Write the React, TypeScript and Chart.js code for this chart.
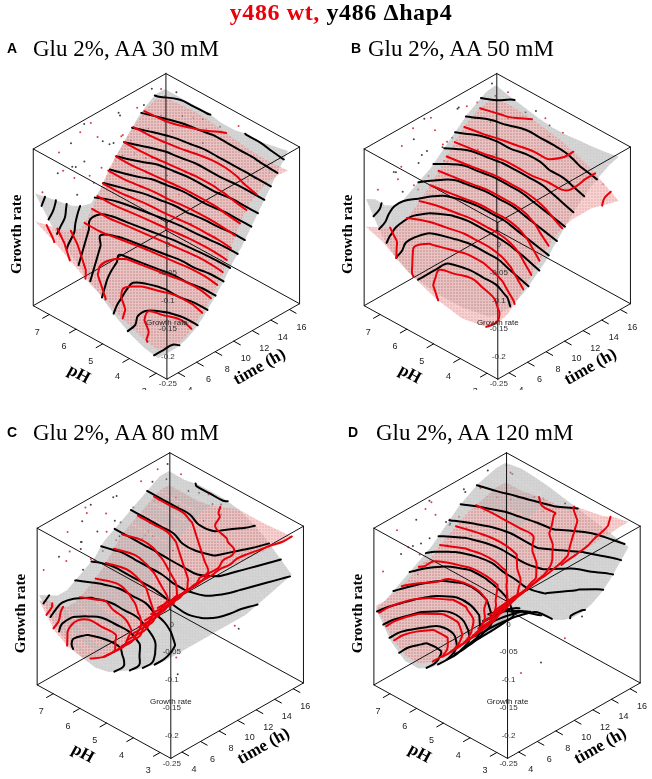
import React, { useEffect, useRef } from "react";
import { Chart, registerables } from "chart.js";

Chart.register(...registerables);

// ---------------- data ----------------
const PH_GRID = [3, 3.5, 4, 4.5, 5, 5.5, 6, 6.5, 7, 7.6];
const TIME_GRID = [3, 4, 5, 6, 7, 8, 9, 10, 11, 12, 13, 14, 15, 16, 17];
const PH_TICKS = [3, 4, 5, 6, 7];
const TIME_TICKS = [4, 6, 8, 10, 12, 14, 16];
const GROWTH_TICKS = [-0.25, -0.2, -0.15, -0.1, -0.05, 0];
const GROWTH_TICK_LABELS = ["-0.25", "-0.2", "-0.15", "-0.1", "-0.05", "0"];
const PH_RANGE = [2.6, 7.6];
const TIME_RANGE = [2.8, 17.1];
const GROWTH_RANGE = [-0.25, 0.032];
const CONTOUR_LEVELS = [
  -0.2235, -0.206, -0.1885, -0.171, -0.1535, -0.136, -0.1185, -0.101,
  -0.0835, -0.066, -0.0485, -0.031, -0.0135, 0.004, 0.0215,
];

// fitted growth rate, rows = TIME_GRID, columns = PH_GRID
const A_WT = [
  [-0.21, -0.205, -0.195, -0.185, -0.17, -0.16, -0.145, -0.13, -0.115, -0.1],
  [-0.215, -0.21, -0.2, -0.19, -0.18, -0.17, -0.155, -0.145, -0.13, -0.115],
  [-0.22, -0.215, -0.21, -0.2, -0.19, -0.18, -0.17, -0.155, -0.145, -0.13],
  [-0.215, -0.215, -0.21, -0.205, -0.195, -0.185, -0.175, -0.165, -0.155, -0.145],
  [-0.2, -0.205, -0.2, -0.195, -0.19, -0.18, -0.175, -0.165, -0.16, -0.155],
  [-0.185, -0.19, -0.19, -0.185, -0.18, -0.175, -0.17, -0.165, -0.16, -0.16],
  [-0.165, -0.17, -0.17, -0.165, -0.16, -0.155, -0.15, -0.145, -0.14, -0.14],
  [-0.135, -0.14, -0.14, -0.135, -0.13, -0.125, -0.12, -0.115, -0.11, -0.11],
  [-0.095, -0.1, -0.1, -0.1, -0.095, -0.09, -0.09, -0.085, -0.08, -0.08],
  [-0.06, -0.065, -0.07, -0.07, -0.07, -0.068, -0.065, -0.062, -0.06, -0.06],
  [-0.038, -0.042, -0.048, -0.05, -0.05, -0.048, -0.045, -0.042, -0.04, -0.04],
  [-0.027, -0.03, -0.034, -0.036, -0.036, -0.034, -0.031, -0.028, -0.026, -0.025],
  [-0.02, -0.022, -0.025, -0.027, -0.027, -0.025, -0.02, -0.015, -0.012, -0.01],
  [-0.018, -0.02, -0.022, -0.022, -0.02, -0.017, -0.012, -0.008, -0.006, -0.005],
  [-0.02, -0.022, -0.022, -0.02, -0.016, -0.012, -0.008, -0.006, -0.008, -0.01],
];
const A_HAP = [
  [-0.225, -0.22, -0.21, -0.195, -0.175, -0.155, -0.135, -0.115, -0.09, -0.05],
  [-0.225, -0.22, -0.21, -0.2, -0.185, -0.165, -0.145, -0.125, -0.1, -0.065],
  [-0.225, -0.22, -0.215, -0.205, -0.19, -0.175, -0.155, -0.135, -0.11, -0.08],
  [-0.22, -0.22, -0.215, -0.205, -0.195, -0.18, -0.165, -0.145, -0.125, -0.095],
  [-0.21, -0.21, -0.205, -0.2, -0.195, -0.185, -0.17, -0.155, -0.135, -0.11],
  [-0.195, -0.195, -0.19, -0.19, -0.185, -0.18, -0.175, -0.165, -0.15, -0.12],
  [-0.175, -0.175, -0.17, -0.17, -0.165, -0.16, -0.155, -0.15, -0.145, -0.125],
  [-0.155, -0.155, -0.15, -0.15, -0.145, -0.14, -0.135, -0.13, -0.125, -0.11],
  [-0.13, -0.13, -0.13, -0.125, -0.125, -0.12, -0.115, -0.11, -0.1, -0.085],
  [-0.11, -0.11, -0.105, -0.105, -0.1, -0.1, -0.095, -0.09, -0.075, -0.06],
  [-0.085, -0.085, -0.085, -0.08, -0.08, -0.08, -0.075, -0.07, -0.055, -0.04],
  [-0.06, -0.06, -0.06, -0.055, -0.055, -0.055, -0.05, -0.045, -0.035, -0.02],
  [-0.035, -0.035, -0.035, -0.035, -0.035, -0.035, -0.03, -0.025, -0.015, -0.005],
  [-0.01, -0.012, -0.015, -0.015, -0.015, -0.015, -0.01, -0.005, 0.0, 0.005],
  [0.015, 0.01, 0.005, 0.005, 0.0, 0.0, 0.005, 0.005, 0.005, 0.005],
];
const B_WT = [
  [-0.17, -0.175, -0.18, -0.175, -0.17, -0.16, -0.15, -0.135, -0.12, -0.11],
  [-0.17, -0.18, -0.185, -0.18, -0.175, -0.17, -0.16, -0.145, -0.13, -0.12],
  [-0.165, -0.175, -0.185, -0.185, -0.18, -0.175, -0.165, -0.155, -0.14, -0.13],
  [-0.15, -0.165, -0.175, -0.18, -0.18, -0.175, -0.17, -0.16, -0.15, -0.14],
  [-0.13, -0.145, -0.16, -0.165, -0.17, -0.165, -0.16, -0.155, -0.15, -0.14],
  [-0.11, -0.125, -0.14, -0.15, -0.155, -0.155, -0.15, -0.145, -0.14, -0.13],
  [-0.09, -0.105, -0.12, -0.13, -0.135, -0.135, -0.135, -0.13, -0.125, -0.115],
  [-0.075, -0.085, -0.1, -0.11, -0.115, -0.115, -0.115, -0.11, -0.105, -0.1],
  [-0.065, -0.07, -0.08, -0.09, -0.095, -0.095, -0.095, -0.09, -0.085, -0.08],
  [-0.06, -0.06, -0.065, -0.07, -0.075, -0.075, -0.075, -0.07, -0.065, -0.06],
  [-0.06, -0.055, -0.055, -0.055, -0.055, -0.055, -0.055, -0.05, -0.045, -0.04],
  [-0.06, -0.055, -0.045, -0.045, -0.04, -0.04, -0.04, -0.035, -0.03, -0.025],
  [-0.065, -0.055, -0.045, -0.035, -0.03, -0.03, -0.025, -0.022, -0.02, -0.015],
  [-0.07, -0.06, -0.045, -0.035, -0.025, -0.02, -0.018, -0.015, -0.012, -0.01],
  [-0.075, -0.06, -0.045, -0.035, -0.025, -0.02, -0.015, -0.012, -0.01, -0.01],
];
const B_HAP = [
  [-0.15, -0.155, -0.16, -0.16, -0.16, -0.155, -0.15, -0.135, -0.11, -0.06],
  [-0.155, -0.16, -0.165, -0.165, -0.16, -0.155, -0.15, -0.14, -0.12, -0.07],
  [-0.155, -0.16, -0.165, -0.165, -0.16, -0.155, -0.15, -0.145, -0.13, -0.09],
  [-0.15, -0.155, -0.16, -0.16, -0.16, -0.155, -0.15, -0.145, -0.13, -0.1],
  [-0.14, -0.145, -0.15, -0.15, -0.15, -0.15, -0.145, -0.14, -0.13, -0.1],
  [-0.125, -0.13, -0.135, -0.14, -0.14, -0.14, -0.135, -0.13, -0.12, -0.09],
  [-0.11, -0.115, -0.12, -0.125, -0.125, -0.125, -0.125, -0.12, -0.11, -0.08],
  [-0.09, -0.095, -0.1, -0.105, -0.11, -0.11, -0.11, -0.105, -0.095, -0.07],
  [-0.07, -0.075, -0.08, -0.085, -0.09, -0.09, -0.09, -0.085, -0.08, -0.055],
  [-0.05, -0.055, -0.06, -0.065, -0.07, -0.07, -0.07, -0.065, -0.06, -0.04],
  [-0.035, -0.04, -0.045, -0.05, -0.05, -0.05, -0.05, -0.045, -0.04, -0.025],
  [-0.02, -0.025, -0.03, -0.03, -0.035, -0.035, -0.03, -0.03, -0.025, -0.01],
  [-0.01, -0.012, -0.015, -0.018, -0.02, -0.02, -0.02, -0.015, -0.01, 0.0],
  [0.0, -0.005, -0.008, -0.01, -0.01, -0.01, -0.01, -0.005, 0.0, 0.01],
  [0.005, 0.0, -0.003, -0.005, -0.008, -0.008, -0.005, 0.0, 0.005, 0.012],
];
const C_WT = [
  [0.015, -0.02, -0.06, -0.1, -0.13, -0.15, -0.16, -0.155, -0.14, -0.1],
  [0.015, -0.02, -0.06, -0.1, -0.13, -0.155, -0.17, -0.165, -0.15, -0.11],
  [0.015, -0.02, -0.06, -0.1, -0.13, -0.155, -0.17, -0.17, -0.16, -0.13],
  [0.015, -0.015, -0.05, -0.085, -0.12, -0.145, -0.16, -0.16, -0.16, -0.14],
  [0.015, -0.015, -0.05, -0.08, -0.11, -0.135, -0.15, -0.15, -0.15, -0.14],
  [0.015, -0.01, -0.04, -0.07, -0.1, -0.115, -0.13, -0.135, -0.14, -0.13],
  [0.015, -0.01, -0.04, -0.065, -0.09, -0.1, -0.115, -0.125, -0.13, -0.12],
  [0.015, -0.005, -0.03, -0.05, -0.07, -0.085, -0.1, -0.11, -0.115, -0.105],
  [0.012, -0.005, -0.03, -0.04, -0.05, -0.065, -0.08, -0.09, -0.095, -0.085],
  [0.01, 0.0, -0.02, -0.03, -0.04, -0.05, -0.06, -0.07, -0.075, -0.065],
  [0.008, 0.0, -0.02, -0.025, -0.03, -0.04, -0.05, -0.055, -0.055, -0.055],
  [0.006, 0.0, -0.01, -0.015, -0.02, -0.03, -0.04, -0.045, -0.045, -0.045],
  [0.005, 0.0, -0.01, -0.01, -0.01, -0.02, -0.03, -0.035, -0.035, -0.035],
  [0.004, 0.002, 0.0, -0.005, -0.01, -0.015, -0.02, -0.025, -0.025, -0.025],
  [0.004, 0.002, 0.0, 0.0, 0.0, -0.01, -0.02, -0.025, -0.025, -0.025],
];
const C_HAP = [
  [-0.09, -0.11, -0.13, -0.145, -0.16, -0.165, -0.16, -0.15, -0.13, -0.09],
  [-0.09, -0.11, -0.13, -0.145, -0.16, -0.17, -0.17, -0.16, -0.14, -0.1],
  [-0.09, -0.105, -0.12, -0.135, -0.15, -0.16, -0.16, -0.155, -0.14, -0.11],
  [-0.09, -0.1, -0.11, -0.125, -0.14, -0.15, -0.15, -0.145, -0.13, -0.11],
  [-0.09, -0.095, -0.1, -0.11, -0.12, -0.13, -0.13, -0.13, -0.12, -0.1],
  [-0.09, -0.09, -0.09, -0.095, -0.1, -0.11, -0.11, -0.11, -0.1, -0.09],
  [-0.09, -0.085, -0.08, -0.08, -0.085, -0.09, -0.09, -0.09, -0.09, -0.08],
  [-0.09, -0.08, -0.07, -0.065, -0.065, -0.07, -0.07, -0.07, -0.07, -0.06],
  [-0.09, -0.075, -0.06, -0.05, -0.05, -0.05, -0.05, -0.05, -0.05, -0.05],
  [-0.09, -0.07, -0.05, -0.04, -0.035, -0.035, -0.04, -0.04, -0.04, -0.04],
  [-0.085, -0.065, -0.045, -0.03, -0.025, -0.025, -0.03, -0.03, -0.03, -0.03],
  [-0.08, -0.06, -0.04, -0.025, -0.015, -0.015, -0.02, -0.02, -0.02, -0.02],
  [-0.075, -0.055, -0.035, -0.02, -0.01, -0.005, -0.01, -0.01, -0.01, -0.01],
  [-0.07, -0.05, -0.03, -0.015, -0.005, 0.0, 0.0, 0.0, 0.0, 0.0],
  [-0.065, -0.045, -0.025, -0.01, 0.0, 0.005, 0.005, 0.005, 0.0, 0.0],
];
const D_WT = [
  [0.01, -0.025, -0.07, -0.1, -0.13, -0.155, -0.17, -0.17, -0.15, -0.11],
  [0.012, -0.025, -0.07, -0.1, -0.13, -0.155, -0.17, -0.17, -0.15, -0.11],
  [0.015, -0.02, -0.065, -0.095, -0.125, -0.15, -0.165, -0.165, -0.145, -0.105],
  [0.015, -0.018, -0.06, -0.09, -0.115, -0.14, -0.155, -0.155, -0.135, -0.1],
  [0.018, -0.015, -0.05, -0.08, -0.105, -0.125, -0.14, -0.14, -0.12, -0.09],
  [0.02, -0.012, -0.045, -0.07, -0.09, -0.11, -0.12, -0.12, -0.105, -0.08],
  [0.02, -0.008, -0.035, -0.055, -0.075, -0.1, -0.11, -0.11, -0.1, -0.08],
  [0.022, -0.004, -0.03, -0.045, -0.06, -0.085, -0.09, -0.09, -0.08, -0.065],
  [0.024, 0.0, -0.02, -0.035, -0.045, -0.065, -0.07, -0.07, -0.065, -0.055],
  [0.025, 0.005, -0.01, -0.025, -0.035, -0.05, -0.055, -0.055, -0.05, -0.045],
  [0.026, 0.01, 0.0, -0.015, -0.025, -0.04, -0.04, -0.04, -0.04, -0.035],
  [0.028, 0.015, 0.005, -0.005, -0.015, -0.03, -0.03, -0.03, -0.03, -0.03],
  [0.028, 0.018, 0.01, 0.0, -0.01, -0.02, -0.02, -0.025, -0.025, -0.025],
  [0.03, 0.02, 0.01, 0.005, 0.0, -0.015, -0.015, -0.02, -0.02, -0.02],
  [0.03, 0.025, 0.015, 0.01, 0.005, -0.01, -0.01, -0.015, -0.02, -0.02],
];
const D_HAP = [
  [0.01, -0.02, -0.08, -0.11, -0.14, -0.165, -0.18, -0.18, -0.16, -0.115],
  [0.0, -0.025, -0.08, -0.11, -0.14, -0.165, -0.18, -0.18, -0.16, -0.11],
  [-0.01, -0.03, -0.08, -0.105, -0.135, -0.16, -0.175, -0.175, -0.15, -0.1],
  [-0.025, -0.04, -0.08, -0.1, -0.13, -0.15, -0.165, -0.165, -0.14, -0.09],
  [-0.04, -0.05, -0.08, -0.095, -0.115, -0.135, -0.15, -0.15, -0.125, -0.08],
  [-0.055, -0.06, -0.08, -0.09, -0.1, -0.12, -0.13, -0.13, -0.11, -0.07],
  [-0.07, -0.07, -0.075, -0.08, -0.09, -0.1, -0.11, -0.11, -0.09, -0.06],
  [-0.08, -0.075, -0.07, -0.07, -0.075, -0.08, -0.085, -0.085, -0.07, -0.045],
  [-0.085, -0.075, -0.065, -0.06, -0.06, -0.06, -0.065, -0.06, -0.05, -0.03],
  [-0.085, -0.07, -0.06, -0.05, -0.045, -0.045, -0.045, -0.04, -0.03, -0.015],
  [-0.08, -0.065, -0.055, -0.04, -0.03, -0.03, -0.03, -0.025, -0.015, -0.005],
  [-0.07, -0.055, -0.045, -0.03, -0.02, -0.02, -0.015, -0.01, 0.0, 0.005],
  [-0.055, -0.04, -0.03, -0.02, -0.01, -0.005, 0.0, 0.005, 0.01, 0.01],
  [-0.035, -0.025, -0.02, -0.01, 0.0, 0.005, 0.01, 0.012, 0.015, 0.015],
  [-0.015, -0.01, -0.005, 0.0, 0.005, 0.01, 0.015, 0.018, 0.02, 0.015],
];

// observed points [pH, time (h), growth rate]
const A_WT_POINTS = [
  [7.4, 5, 0.01], [7.0, 8, 0.02], [6.8, 11, -0.01], [6.2, 13, 0.02], [7.5, 12, -0.03], [5.5, 15, 0.025],
  [6.6, 6, -0.02], [7.2, 9, -0.05], [4.5, 16, 0.03], [5.8, 10, 0.0], [3.5, 16.5, -0.03], [7.6, 14, 0.0],
  [6.0, 7, 0.015], [4.0, 12, -0.02], [5.0, 11, -0.06], [6.9, 15, 0.03],
  [7.3, 7, 0.03], [6.9, 4, 0.0], [7.6, 9, 0.02], [6.4, 9, 0.03], [7.0, 5.5, -0.03], [5.6, 12, 0.03],
  [6.7, 14, 0.01], [7.4, 16, 0.02], [5.2, 8, 0.03], [6.1, 5, -0.01], [4.6, 10, 0.02], [7.5, 3.5, -0.05],
];
const A_HAP_POINTS = [
  [7.3, 6, 0.02], [6.9, 9, 0.0], [6.5, 12, 0.01], [7.5, 10, -0.02], [5.9, 14, 0.03], [7.1, 4, -0.01],
  [6.4, 8, 0.025], [5.2, 16, 0.01], [7.6, 7, -0.04], [6.0, 11, -0.02], [3.8, 15, -0.04], [4.8, 13, 0.02],
  [7.0, 13, 0.03], [5.5, 9, 0.02], [4.2, 10, -0.08], [6.2, 16, 0.0],
  [7.5, 8, 0.03], [6.6, 4.5, 0.01], [7.2, 11, 0.025], [6.3, 10, -0.01], [7.6, 12, 0.01], [5.7, 7, 0.03],
  [6.8, 6, 0.0], [7.4, 15, 0.03], [5.0, 14, 0.03], [6.2, 3.5, -0.02], [4.4, 8, 0.02], [7.0, 16.5, 0.02],
];
const B_WT_POINTS = [
  [7.3, 6, 0.015], [7.1, 9, 0.02], [6.7, 12, -0.015], [6.1, 14, 0.02], [7.5, 11, -0.035], [5.4, 16, 0.02],
  [6.5, 5, -0.025], [7.0, 8, -0.05], [4.4, 15, 0.03], [5.7, 9, 0.005], [3.6, 17, -0.06], [7.6, 15, 0.0],
  [5.9, 6.5, 0.02], [4.1, 11, -0.03], [4.9, 12, -0.07], [6.8, 16, 0.03],
  [7.4, 7.5, 0.03], [6.8, 4.5, 0.005], [7.6, 10, 0.02], [6.3, 8, 0.03], [7.1, 5, -0.03], [5.5, 13, 0.03],
  [6.6, 15, 0.01], [7.3, 13, 0.02], [5.1, 7, 0.03], [6.0, 4, -0.01], [4.7, 9, 0.02], [7.5, 4, -0.05],
];
const B_HAP_POINTS = [
  [7.2, 7, 0.02], [6.8, 10, 0.005], [6.4, 13, 0.015], [7.4, 9, -0.025], [5.8, 15, 0.03], [7.0, 4.5, -0.01],
  [6.3, 7.5, 0.025], [5.1, 15.5, 0.0], [7.6, 6, -0.04], [5.9, 12, -0.02], [3.9, 14, -0.05], [4.7, 12, 0.02],
  [7.1, 14, 0.03], [5.4, 8.5, 0.02], [4.3, 9, -0.09], [6.1, 17, 0.005],
  [7.5, 9, 0.03], [6.5, 5.5, 0.01], [7.3, 12, 0.025], [6.2, 11, -0.01], [7.6, 13, 0.01], [5.6, 6, 0.03],
  [6.9, 7, 0.0], [7.4, 16, 0.03], [4.9, 15, 0.03], [6.4, 3.5, -0.02], [4.5, 7, 0.02], [7.1, 15.5, 0.02],
];
const C_WT_POINTS = [
  [7.4, 5.5, 0.005], [7.0, 8.5, 0.02], [6.9, 12, -0.02], [6.3, 14, 0.015], [7.5, 10, -0.04], [5.6, 15.5, 0.025],
  [6.7, 6, -0.03], [7.3, 9, -0.06], [4.6, 14, 0.03], [5.9, 9.5, 0.0], [3.4, 12, -0.12], [7.6, 14, 0.01],
  [6.1, 7, 0.01], [4.2, 8, -0.16], [5.1, 10.5, -0.07], [6.8, 16, 0.025],
  [7.2, 7, 0.03], [6.8, 4, 0.0], [7.6, 8, 0.02], [6.5, 10, 0.03], [7.1, 4.5, -0.03], [5.7, 12.5, 0.03],
  [6.6, 13, 0.01], [7.5, 15.5, 0.02], [5.3, 7.5, 0.03], [6.2, 5, -0.01], [4.4, 11, 0.02], [7.6, 3.5, -0.05],
];
const C_HAP_POINTS = [
  [7.2, 6.5, 0.02], [6.8, 9.5, 0.0], [6.6, 12.5, 0.015], [7.5, 9, -0.03], [6.0, 14.5, 0.03], [7.2, 4, -0.02],
  [6.5, 8, 0.025], [5.3, 16, 0.01], [7.6, 7.5, -0.05], [6.1, 11, -0.02], [3.6, 13, -0.14], [4.9, 13, 0.02],
  [7.0, 13.5, 0.03], [5.6, 9, 0.02], [3.8, 7, -0.17], [6.3, 16.5, 0.0],
  [7.4, 8, 0.03], [6.7, 5, 0.01], [7.3, 10.5, 0.025], [6.4, 11.5, -0.01], [7.6, 11, 0.01], [5.8, 6.5, 0.03],
  [6.9, 5.5, 0.0], [7.3, 16, 0.03], [5.1, 14.5, 0.03], [6.3, 4, -0.02], [4.5, 8.5, 0.02], [7.0, 15, 0.02],
];
const D_WT_POINTS = [
  [7.5, 5, 0.01], [7.1, 8, 0.02], [6.8, 10.5, -0.02], [6.2, 13.5, 0.02], [7.6, 11, -0.03], [5.5, 15, 0.025],
  [6.6, 5.5, -0.03], [7.2, 9.5, -0.05], [4.5, 15, 0.03], [5.8, 9, 0.0], [3.3, 11, -0.13], [7.5, 14, 0.0],
  [6.0, 6.5, 0.015], [3.9, 8, -0.18], [5.0, 12, -0.06], [6.9, 15.5, 0.03],
  [7.3, 7.5, 0.03], [6.9, 4.5, 0.0], [7.6, 9, 0.02], [6.4, 8.5, 0.03], [7.0, 6, -0.03], [5.6, 11.5, 0.03],
  [6.7, 13.5, 0.01], [7.4, 16.5, 0.02], [5.2, 9, 0.03], [6.1, 4.5, -0.01], [4.6, 11, 0.02], [7.5, 3.5, -0.05],
];
const D_HAP_POINTS = [
  [7.3, 6.5, 0.02], [6.9, 9, 0.0], [6.5, 11.5, 0.01], [7.4, 10, -0.02], [5.9, 13.5, 0.03], [7.0, 4, -0.01],
  [6.4, 7.5, 0.025], [5.2, 16.5, 0.01], [7.6, 7, -0.04], [6.0, 10.5, -0.02], [3.7, 14, -0.13], [4.8, 12.5, 0.02],
  [7.0, 12.5, 0.03], [5.5, 8.5, 0.02], [3.5, 9, -0.16], [6.2, 16, 0.0],
  [7.5, 8.5, 0.03], [6.6, 5, 0.01], [7.2, 11.5, 0.025], [6.3, 9.5, -0.01], [7.6, 12.5, 0.01], [5.7, 6.5, 0.03],
  [6.8, 6.5, 0.0], [7.4, 14.5, 0.03], [5.0, 13.5, 0.03], [6.2, 3.5, -0.02], [4.4, 9.5, 0.02], [7.0, 16, 0.02],
];

const PANELS = [
  { key: "A", title: "Glu 2%, AA 30 mM", left: 0, top: 0, ox: 167, oy: 383, letterX: 7, titleX: 33, baseY: 56, wtBias: -10, wt: A_WT, hap: A_HAP, wtPts: A_WT_POINTS, hapPts: A_HAP_POINTS },
  { key: "B", title: "Glu 2%, AA 50 mM", left: 326, top: 0, ox: 172, oy: 383, letterX: 25, titleX: 42, baseY: 56, wtBias: -10, wt: B_WT, hap: B_HAP, wtPts: B_WT_POINTS, hapPts: B_HAP_POINTS },
  { key: "C", title: "Glu 2%, AA 80 mM", left: 0, top: 390, ox: 171, oy: 372, letterX: 7, titleX: 33, baseY: 50, wtBias: -0.1, wt: C_WT, hap: C_HAP, wtPts: C_WT_POINTS, hapPts: C_HAP_POINTS },
  { key: "D", title: "Glu 2%, AA 120 mM", left: 326, top: 390, ox: 182, oy: 372, letterX: 22, titleX: 50, baseY: 50, wtBias: -0.1, wt: D_WT, hap: D_HAP, wtPts: D_WT_POINTS, hapPts: D_HAP_POINTS },
];

// ---------------- geometry / style ----------------
const PANEL_W = 326;
const PANEL_H = 390;
const PH_VEC = { x: -137, y: -75 };
const TIME_VEC = { x: 136, y: -77 };
const GROWTH_LEN = 160;
const RED = "#e8000b";
const SERIF = '"Liberation Serif", "Times New Roman", Times, serif';
const SANS = '"Liberation Sans", Arial, Helvetica, sans-serif';
const PH_CHUNKS = [[0, 3], [3, 6], [6, 9]];

type Pt = { x: number; y: number };

function frac(v: number, r: number[]) {
  return (v - r[0]) / (r[1] - r[0]);
}

function makeProjector(panel: any) {
  return (ph: number, t: number, g: number): Pt => {
    const fp = frac(ph, PH_RANGE);
    const ft = frac(t, TIME_RANGE);
    const fg = frac(g, GROWTH_RANGE);
    return {
      x: panel.ox + PH_VEC.x * fp + TIME_VEC.x * ft,
      y: panel.oy + PH_VEC.y * fp + TIME_VEC.y * ft - GROWTH_LEN * fg,
    };
  };
}

// distance along the viewing ray (larger = farther from the viewer)
function depthOf(ph: number, t: number, g: number) {
  return frac(ph, PH_RANGE) + frac(t, TIME_RANGE) - 0.95 * frac(g, GROWTH_RANGE);
}

function lineDs(data: Pt[], color: string, width: number, tension = 0) {
  return {
    data,
    showLine: true,
    borderColor: color,
    borderWidth: width,
    pointRadius: 0,
    pointHoverRadius: 0,
    fill: false,
    tension,
    borderCapStyle: "round",
    borderJoinStyle: "round",
  };
}

function surfaceCells(grid: number[][], proj: any, pattern: any, bias: number) {
  const cells: { depth: number; ds: any }[] = [];
  for (let i = 0; i < TIME_GRID.length - 1; i++) {
    PH_CHUNKS.forEach(([j0, j1]) => {
      const upper: Pt[] = [];
      const lower: Pt[] = [];
      let depth = 0;
      let n = 0;
      for (let j = j0; j <= j1; j++) {
        upper.push(proj(PH_GRID[j], TIME_GRID[i + 1], grid[i + 1][j]));
        lower.push(proj(PH_GRID[j], TIME_GRID[i], grid[i][j]));
        depth += depthOf(PH_GRID[j], TIME_GRID[i + 1], grid[i + 1][j]) + depthOf(PH_GRID[j], TIME_GRID[i], grid[i][j]);
        n += 2;
      }
      cells.push({
        depth: depth / n + bias,
        ds: {
          data: [...upper, ...lower.reverse()],
          showLine: true,
          borderColor: "rgba(0,0,0,0)",
          borderWidth: 0.01,
          backgroundColor: pattern,
          fill: "shape",
          pointRadius: 0,
          tension: 0,
        },
      });
    });
  }
  return cells;
}

function contourPaths(grid: number[][], level: number) {
  const nI = TIME_GRID.length;
  const nJ = PH_GRID.length;
  const pts = new Map<string, { ph: number; t: number }>();
  const segs: string[][] = [];
  const hEdge = (i: number, j: number) => {
    const k = `h${i}_${j}`;
    if (!pts.has(k)) {
      const a = grid[i][j], b = grid[i][j + 1];
      const f = (level - a) / (b - a);
      pts.set(k, { ph: PH_GRID[j] + f * (PH_GRID[j + 1] - PH_GRID[j]), t: TIME_GRID[i] });
    }
    return k;
  };
  const vEdge = (i: number, j: number) => {
    const k = `v${i}_${j}`;
    if (!pts.has(k)) {
      const a = grid[i][j], b = grid[i + 1][j];
      const f = (level - a) / (b - a);
      pts.set(k, { ph: PH_GRID[j], t: TIME_GRID[i] + f * (TIME_GRID[i + 1] - TIME_GRID[i]) });
    }
    return k;
  };
  for (let i = 0; i < nI - 1; i++) {
    for (let j = 0; j < nJ - 1; j++) {
      const a = grid[i][j] >= level;
      const b = grid[i][j + 1] >= level;
      const c = grid[i + 1][j + 1] >= level;
      const d = grid[i + 1][j] >= level;
      const e: string[] = [];
      if (a !== b) e.push(hEdge(i, j));
      if (b !== c) e.push(vEdge(i, j + 1));
      if (c !== d) e.push(hEdge(i + 1, j));
      if (d !== a) e.push(vEdge(i, j));
      if (e.length === 2) segs.push([e[0], e[1]]);
      else if (e.length === 4) {
        const center = (grid[i][j] + grid[i][j + 1] + grid[i + 1][j] + grid[i + 1][j + 1]) / 4 >= level;
        if (center === a) {
          segs.push([e[0], e[1]]);
          segs.push([e[2], e[3]]);
        } else {
          segs.push([e[3], e[0]]);
          segs.push([e[1], e[2]]);
        }
      }
    }
  }
  const adj = new Map<string, number[]>();
  segs.forEach((s, k) => {
    s.forEach((key) => {
      if (!adj.has(key)) adj.set(key, []);
      adj.get(key)!.push(k);
    });
  });
  const used = segs.map(() => false);
  const walk = (startSeg: number, startEdge: string) => {
    const path = [startEdge];
    let seg = startSeg;
    let edge = startEdge;
    while (seg >= 0 && !used[seg]) {
      used[seg] = true;
      const other = segs[seg][0] === edge ? segs[seg][1] : segs[seg][0];
      path.push(other);
      const next = (adj.get(other) || []).find((k) => !used[k]);
      edge = other;
      seg = next === undefined ? -1 : next;
    }
    return path.map((k) => pts.get(k)!);
  };
  const paths: { ph: number; t: number }[][] = [];
  adj.forEach((list, key) => {
    if (list.length === 1 && !used[list[0]]) paths.push(walk(list[0], key));
  });
  segs.forEach((s, k) => {
    if (!used[k]) paths.push(walk(k, s[0]));
  });
  return paths;
}

function contourLines(grid: number[][], proj: any, color: string) {
  const out: any[] = [];
  CONTOUR_LEVELS.forEach((level) => {
    contourPaths(grid, level).forEach((path) => {
      if (path.length < 3) return;
      out.push(lineDs(path.map((p) => proj(p.ph, p.t, level)), color, 2, 0.4));
    });
  });
  return out;
}

function pointsDs(points: number[][], proj: any, color: string) {
  return {
    data: points.map((p) => proj(p[0], p[1], p[2])),
    showLine: false,
    pointRadius: 1,
    pointBorderWidth: 0,
    pointBackgroundColor: color,
    backgroundColor: color,
    borderColor: color,
  };
}

function buildDatasets(panel: any, patterns: any) {
  const proj = makeProjector(panel);
  const [p0, p1] = PH_RANGE;
  const [t0, t1] = TIME_RANGE;
  const [g0, g1] = GROWTH_RANGE;
  const paint: any[] = [];
  paint.push(pointsDs(panel.hapPts, proj, "#444"));
  paint.push(pointsDs(panel.wtPts, proj, "#d8404a"));
  const cells = [
    ...surfaceCells(panel.hap, proj, patterns.grey, 0),
    ...surfaceCells(panel.wt, proj, patterns.pink, panel.wtBias),
  ];
  cells.sort((a, b) => b.depth - a.depth);
  cells.forEach((c) => paint.push(c.ds));
  const edges = [
    [[p0, t0, g0], [p1, t0, g0]], [[p0, t0, g0], [p0, t1, g0]], [[p1, t0, g0], [p1, t1, g0]], [[p0, t1, g0], [p1, t1, g0]],
    [[p0, t0, g1], [p1, t0, g1]], [[p0, t0, g1], [p0, t1, g1]], [[p1, t0, g1], [p1, t1, g1]], [[p0, t1, g1], [p1, t1, g1]],
    [[p0, t0, g0], [p0, t0, g1]], [[p1, t0, g0], [p1, t0, g1]], [[p0, t1, g0], [p0, t1, g1]], [[p1, t1, g0], [p1, t1, g1]],
  ];
  edges.forEach(([a, b]) => paint.push(lineDs([proj(a[0], a[1], a[2]), proj(b[0], b[1], b[2])], "#111", 1)));
  paint.push(...contourLines(panel.hap, proj, "#000"));
  paint.push(...contourLines(panel.wt, proj, RED));
  const tSpan = t1 - t0;
  const pSpan = p1 - p0;
  PH_TICKS.forEach((ph) => paint.push(lineDs([proj(ph, t0, g0), proj(ph, t0 - 0.05 * tSpan, g0)], "#000", 1)));
  TIME_TICKS.forEach((t) => paint.push(lineDs([proj(p0, t, g0), proj(p0 - 0.05 * pSpan, t, g0)], "#000", 1)));
  // Chart.js paints dataset 0 on top, so reverse the back-to-front list
  return paint.reverse();
}

function axisTextPlugin(panel: any) {
  return {
    id: "axisText" + panel.key,
    afterDatasetsDraw(chart: any) {
      const ctx = chart.ctx;
      const sx = chart.scales.x;
      const sy = chart.scales.y;
      const proj = makeProjector(panel);
      const P = (p: Pt) => ({ x: sx.getPixelForValue(p.x), y: sy.getPixelForValue(p.y) });
      const text = (s: string, p: Pt, font: string, color: string, angle = 0, dx = 0, dy = 0) => {
        ctx.save();
        ctx.translate(p.x + dx, p.y + dy);
        ctx.rotate(angle);
        ctx.font = font;
        ctx.fillStyle = color;
        ctx.textAlign = "center";
        ctx.textBaseline = "middle";
        ctx.fillText(s, 0, 0);
        ctx.restore();
      };
      const [p0, p1] = PH_RANGE;
      const [t0, t1] = TIME_RANGE;
      const [g0, g1] = GROWTH_RANGE;
      const tSpan = t1 - t0;
      const pSpan = p1 - p0;
      PH_TICKS.forEach((ph) => text(String(ph), P(proj(ph, t0 - 0.09 * tSpan, g0)), `9px ${SANS}`, "#222", 0, 0, 11));
      TIME_TICKS.forEach((t) => text(String(t), P(proj(p0 - 0.09 * pSpan, t, g0)), `9px ${SANS}`, "#222", 0, 0, 11));
      GROWTH_TICKS.forEach((g, k) => text(GROWTH_TICK_LABELS[k], P(proj(p0, t0, g)), `8px ${SANS}`, "#333", 0, 1, 5));
      text("Growth rate", P(proj(p0, t0, -0.15)), `8px ${SANS}`, "#222", 0, 0, -1);
      const phAngle = Math.atan2(-PH_VEC.y, -PH_VEC.x);
      const tAngle = Math.atan2(TIME_VEC.y, TIME_VEC.x);
      text("pH", P(proj((p0 + p1) / 2, t0 - 0.16 * tSpan, g0)), `bold 17px ${SERIF}`, "#000", phAngle, 0, 20);
      text("time (h)", P(proj(p0 - 0.16 * pSpan, 10.5, g0)), `bold 17px ${SERIF}`, "#000", tAngle, 0, 17);
      text("Growth rate", P(proj(p1, t0, (g0 + g1) / 2)), `bold 15px ${SERIF}`, "#000", -Math.PI / 2, -16, 7);
    },
  };
}

function makePattern(base: string, line: string) {
  const c = document.createElement("canvas");
  c.width = 3;
  c.height = 3;
  const g = c.getContext("2d")!;
  g.fillStyle = base;
  g.fillRect(0, 0, 3, 3);
  g.fillStyle = line;
  g.fillRect(0, 0, 3, 1);
  g.fillRect(0, 1, 1, 2);
  return g.createPattern(c, "repeat");
}

function Panel({ panel }: { panel: any }) {
  const ref = useRef<HTMLCanvasElement>(null);
  useEffect(() => {
    const canvas = ref.current;
    if (!canvas) return;
    const patterns = {
      pink: makePattern("rgba(225,110,110,0.45)", "rgba(255,235,235,0.42)"),
      grey: makePattern("rgba(150,150,150,0.40)", "rgba(200,200,200,0.40)"),
    };
    const chart = new Chart(canvas, {
      type: "scatter",
      data: { datasets: buildDatasets(panel, patterns) },
      options: {
        animation: false,
        responsive: false,
        maintainAspectRatio: false,
        events: [],
        layout: { padding: 0 },
        scales: {
          x: { type: "linear", min: 0, max: PANEL_W, display: false },
          y: { type: "linear", min: 0, max: PANEL_H, reverse: true, display: false },
        },
        plugins: { legend: { display: false }, tooltip: { enabled: false }, title: { display: false } },
      } as any,
      plugins: [axisTextPlugin(panel)],
    } as any);
    return () => chart.destroy();
  }, [panel]);
  return (
    <div style={{ position: "absolute", left: panel.left, top: panel.top, width: PANEL_W, height: PANEL_H }}>
      <canvas
        ref={ref}
        width={PANEL_W}
        height={PANEL_H}
        style={{ position: "absolute", left: 0, top: 0, width: PANEL_W, height: PANEL_H, display: "block" }}
      />
      <div
        style={{
          position: "absolute",
          left: panel.letterX,
          top: panel.baseY - 15,
          font: `bold 14px ${SANS}`,
          lineHeight: "14px",
          color: "#000",
        }}
      >
        {panel.key}
      </div>
      <div
        style={{
          position: "absolute",
          left: panel.titleX,
          top: panel.baseY - 19,
          font: `23px ${SERIF}`,
          lineHeight: "23px",
          color: "#000",
          whiteSpace: "nowrap",
        }}
      >
        {panel.title}
      </div>
    </div>
  );
}

export default function App() {
  return (
    <div
      style={{
        position: "absolute",
        left: 0,
        top: 0,
        width: 652,
        height: 779,
        background: "#fff",
        overflow: "hidden",
      }}
    >
      {PANELS.map((p) => (
        <Panel key={p.key} panel={p} />
      ))}
      <div
        style={{
          position: "absolute",
          left: 0,
          top: -1,
          width: 682,
          textAlign: "center",
          font: `bold 24px ${SERIF}`,
          lineHeight: "26px",
          letterSpacing: "0.6px",
          whiteSpace: "nowrap",
        }}
      >
        <span style={{ color: RED }}>y486 wt,</span> <span style={{ color: "#000" }}>y486 Δhap4</span>
      </div>
    </div>
  );
}
